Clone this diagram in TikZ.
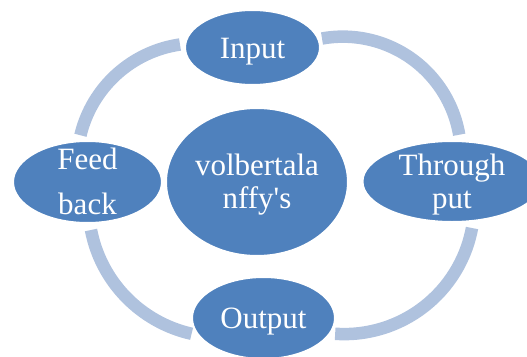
\documentclass[tikz,border=0pt]{standalone}
\usepackage{fontspec}
\setmainfont{Liberation Serif}
\usetikzlibrary{shapes.geometric}
\definecolor{nodeblue}{HTML}{4F81BD}
\definecolor{ringblue}{HTML}{AFC2DE}
\begin{document}
\begin{tikzpicture}[x=1pt,y=-1pt,
  ring/.style={draw=ringblue, line width=12.5pt},
  bubble/.style={ellipse, fill=nodeblue, draw=white, line width=2pt,
    inner sep=0pt, text=white, font=\fontsize{31}{33}\selectfont},
]
\useasboundingbox (0,0) rectangle (527,356);
\clip (0,0) rectangle (527,356);

% ring segments
\coordinate (tlA) at (180,44.5);
\draw[ring] (tlA) arc[start angle=261.8, end angle=193.5, radius=120];
\coordinate (trA) at (322,38.5);
\draw[ring] (trA) arc[start angle=259.8, end angle=350.3, radius=118];
\coordinate (brA) at (472,228);
\draw[ring] (brA) arc[start angle=10.6, end angle=94, radius=130];
\coordinate (blA) at (91,230);
\draw[ring] (blA) arc[start angle=169.1, end angle=102.7, radius=132];

% nodes
\node[bubble, minimum width=135pt, minimum height=75pt,
  text height=21pt, text depth=0pt] (input) at (252.5,47.5) {Input};
\node[bubble, minimum width=143pt, minimum height=82pt,
  text height=20pt, text depth=0pt] (output) at (263.5,318) {Output};
\node[bubble, minimum width=149pt, minimum height=82pt,
  text height=0pt, text depth=26pt, font=\fontsize{31}{45}\selectfont] (feed) at (87.5,182)
  {\begin{tabular}[t]{@{}c@{}}Feed\\back\end{tabular}};
\node[bubble, minimum width=179pt, minimum height=81pt,
  text height=0pt, text depth=13pt] (through) at (452,181.5)
  {\begin{tabular}[t]{@{}c@{}}Through\\put\end{tabular}};
\node[bubble, minimum width=182pt, minimum height=148pt,
  text height=0pt, text depth=14pt] (center) at (257,182)
  {\begin{tabular}[t]{@{}c@{}}volbertala\\nffy\textquotesingle s\end{tabular}};
\end{tikzpicture}
\end{document}
